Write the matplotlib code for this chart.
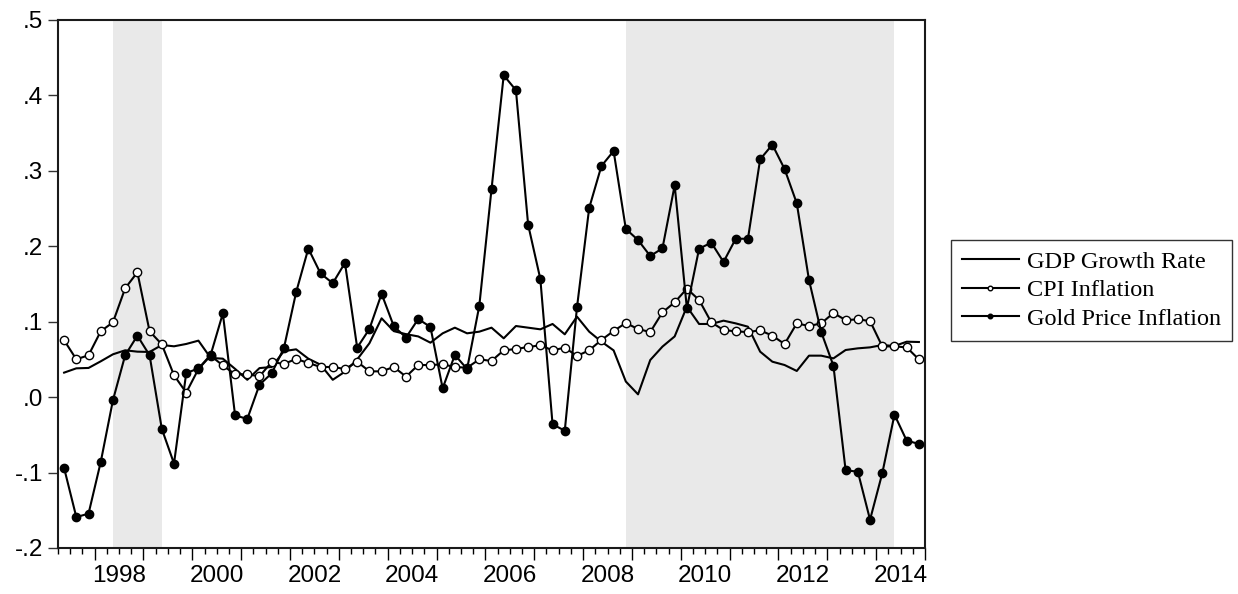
import matplotlib
matplotlib.use("Agg")
import matplotlib.pyplot as plt
import numpy as np

# quarterly observations, 1997Q2 .. 2014Q4
start_year, start_q = 1997, 2
gdp_growth = [0.0325, 0.0382, 0.0387, 0.0475, 0.0568, 0.0621, 0.0603, 0.0599,
              0.0691, 0.0674, 0.0705, 0.0749, 0.0520, 0.0510, 0.0375, 0.0230,
              0.0385, 0.0400, 0.0610, 0.0634, 0.0510, 0.0430, 0.0230, 0.0338,
              0.0500, 0.0714, 0.1045, 0.0875, 0.0835, 0.0805, 0.0722, 0.0846,
              0.0921, 0.0846, 0.0868, 0.0921, 0.0780, 0.0943, 0.0921, 0.0899,
              0.0970, 0.0833, 0.1067, 0.0868, 0.0736, 0.0620, 0.0207, 0.0037,
              0.0492, 0.0670, 0.0805, 0.1200, 0.0970, 0.0970, 0.1014, 0.0978,
              0.0934, 0.0603, 0.0470, 0.0426, 0.0347, 0.0550, 0.0550, 0.0514,
              0.0625, 0.0647, 0.0660, 0.0691, 0.0678, 0.0735, 0.0731]
cpi_inflation = [0.0754, 0.0502, 0.0555, 0.0873, 0.0992, 0.1443, 0.1655, 0.0873,
                 0.0700, 0.0290, 0.0060, 0.0373, 0.0550, 0.0420, 0.0303, 0.0303,
                 0.0276, 0.0466, 0.0440, 0.0506, 0.0453, 0.0400, 0.0400, 0.0373,
                 0.0470, 0.0342, 0.0342, 0.0400, 0.0272, 0.0426, 0.0426, 0.0435,
                 0.0400, 0.0390, 0.0501, 0.0480, 0.0621, 0.0638, 0.0665, 0.0687,
                 0.0621, 0.0656, 0.0546, 0.0621, 0.0758, 0.0877, 0.0983, 0.0903,
                 0.0863, 0.1124, 0.1257, 0.1438, 0.1288, 0.0992, 0.0890, 0.0872,
                 0.0863, 0.0886, 0.0815, 0.0704, 0.0978, 0.0943, 0.0978, 0.1115,
                 0.1022, 0.1031, 0.1009, 0.0673, 0.0673, 0.0660, 0.0500]
gold_inflation = [-0.094, -0.159, -0.1545, -0.086, -0.004, 0.0555, 0.0815, 0.0555,
                  -0.042, -0.088, 0.032, 0.038, 0.056, 0.111, -0.024, -0.029,
                  0.0165, 0.0316, 0.065, 0.139, 0.197, 0.164, 0.151, 0.178,
                  0.0656, 0.0903, 0.137, 0.094, 0.079, 0.1036, 0.093, 0.0117,
                  0.056, 0.0373, 0.121, 0.2755, 0.4267, 0.407, 0.2286, 0.1566,
                  -0.036, -0.0445, 0.119, 0.2508, 0.3064, 0.3263, 0.223, 0.2083,
                  0.1871, 0.1973, 0.2808, 0.1178, 0.1968, 0.2048, 0.1792, 0.21,
                  0.21, 0.3153, 0.3347, 0.3025, 0.257, 0.1553, 0.0864, 0.0417,
                  -0.097, -0.0988, -0.1625, -0.101, -0.0232, -0.0577, -0.062]

# shaded periods (quarter start/end, inclusive midpoints)
shade_periods = [((1998, 2), (1999, 2)), ((2008, 4), (2014, 2))]

year_labels = list(range(1998, 2015, 2))
y_ticks = [0.5, 0.4, 0.3, 0.2, 0.1, 0.0, -0.1, -0.2]
y_tick_labels = [".5", ".4", ".3", ".2", ".1", ".0", "-.1", "-.2"]


def qpos(year, q):
    # centre of a quarter in fractional years
    return year + (q - 0.5) / 4.0


n = len(gold_inflation)
x = np.array([qpos(start_year + (start_q - 1 + i) // 4, (start_q - 1 + i) % 4 + 1)
              for i in range(n)])

plt.rcParams["font.family"] = ["Liberation Sans", "DejaVu Sans"]

fig = plt.figure(figsize=(12.38, 5.94), dpi=100)
ax = fig.add_axes([58 / 1238, 46 / 594, 867 / 1238, 528 / 594])

for (y0, q0), (y1, q1) in shade_periods:
    ax.axvspan(qpos(y0, q0), qpos(y1, q1), color="#e9e9e9", lw=0, zorder=0)

lw = 1.5
ax.plot(x, gdp_growth, color="black", lw=lw, zorder=2, label="GDP Growth Rate")
ax.plot(x, cpi_inflation, color="black", lw=lw, marker="o", ms=6.0,
        mfc="white", mec="black", mew=1.0, zorder=3, label="CPI Inflation")
ax.plot(x, gold_inflation, color="black", lw=lw, marker="o", ms=6.0,
        mfc="black", mec="black", zorder=4, label="Gold Price Inflation")

ax.set_xlim(1997.25, 2015.0)
ax.set_ylim(-0.2, 0.5)

ax.set_yticks(y_ticks)
ax.set_yticklabels(y_tick_labels, fontsize=17.5)
ax.tick_params(axis="y", direction="out", length=7, width=1.0, pad=3.5,
               color="#333333")

ax.set_xticks(np.arange(1998, 2016, 1))
ax.set_xticklabels([])
ax.set_xticks(np.arange(1997.25, 2015.01, 0.25), minor=True)
ax.tick_params(axis="x", which="major", direction="out", length=8.5, width=1.0)
ax.tick_params(axis="x", which="minor", direction="out", length=4.5, width=1.0)
ax.tick_params(axis="y", which="minor", left=False)

sec = ax.secondary_xaxis("bottom")
sec.set_xticks([yr + 0.5 for yr in year_labels])
sec.set_xticklabels([str(yr) for yr in year_labels], fontsize=17.5)
sec.tick_params(length=0, pad=12)
sec.spines["bottom"].set_visible(False)

for sp in ax.spines.values():
    sp.set_linewidth(1.5)
    sp.set_color("#1a1a1a")

leg = ax.legend(loc="upper left", bbox_to_anchor=(951 / 1238, 354 / 594),
                bbox_transform=fig.transFigure, borderaxespad=0,
                prop={"family": "Liberation Serif", "size": 17.5},
                frameon=True, fancybox=False, handlelength=2.35,
                handletextpad=0.33, labelspacing=0.26, borderpad=0.45,
                markerscale=0.55)
leg.get_frame().set_edgecolor("black")
leg.get_frame().set_linewidth(1.0)

fig.savefig("out.png", dpi=100)
